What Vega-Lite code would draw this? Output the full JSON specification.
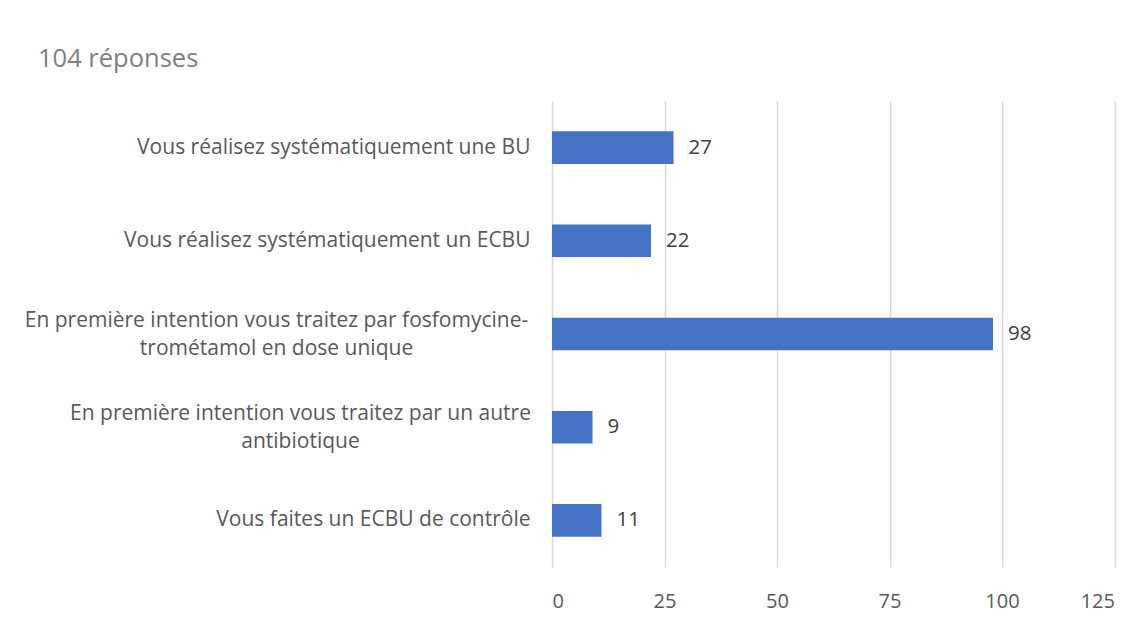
{
  "$schema": "https://vega.github.io/schema/vega-lite/v6.json",
  "width": 562.5,
  "height": 466,
  "autosize": {"type": "none"},
  "padding": {"left": 552, "top": 101, "right": 33.5, "bottom": 55},
  "background": "white",
  "title": {
    "text": "104 réponses",
    "anchor": "start",
    "frame": "group",
    "dx": -514,
    "offset": 9,
    "baseline": "alphabetic",
    "font": "Open Sans",
    "fontSize": 25.5,
    "fontWeight": "normal",
    "color": "#7f7f7f"
  },
  "data": {
    "values": [
      {"reponse": "Vous réalisez systématiquement une BU", "n": 27},
      {"reponse": "Vous réalisez systématiquement un ECBU", "n": 22},
      {"reponse": "En première intention vous traitez par fosfomycine-|trométamol en dose unique", "n": 98},
      {"reponse": "En première intention vous traitez par un autre|antibiotique", "n": 9},
      {"reponse": "Vous faites un ECBU de contrôle", "n": 11}
    ]
  },
  "encoding": {
    "y": {
      "field": "reponse",
      "type": "nominal",
      "sort": null,
      "scale": {"paddingInner": 0.65, "paddingOuter": 0.325},
      "axis": {
        "title": null,
        "domain": false,
        "ticks": false,
        "labelExpr": "split(datum.label, '|')",
        "labelPadding": {"condition": [
          {"test": "indexof(datum.value, 'fosfomycine') >= 0", "value": 276},
          {"test": "indexof(datum.value, 'autre') >= 0", "value": 252}
        ], "value": 22},
        "labelAlign": {"condition": {"test": "indexof(datum.value, '|') >= 0", "value": "center"}, "value": "right"},
        "labelOffset": {"condition": {"test": "indexof(datum.value, '|') >= 0", "value": -13}, "value": 0},
        "labelFont": "Open Sans",
        "labelFontSize": 21,
        "labelColor": "#595959",
        "labelLineHeight": 28,
        "labelLimit": 600
      }
    },
    "x": {
      "field": "n",
      "type": "quantitative",
      "scale": {"domain": [0, 125], "nice": false},
      "axis": {
        "title": null,
        "values": [0, 25, 50, 75, 100, 125],
        "domain": false,
        "ticks": false,
        "grid": true,
        "gridColor": "#d9d9d9",
        "gridWidth": 1.5,
        "labelPadding": 24,
        "labelFont": "Open Sans",
        "labelFontSize": 20,
        "labelColor": "#595959"
      }
    }
  },
  "layer": [
    {"mark": {"type": "bar", "color": "#4472C4"}},
    {
      "mark": {"type": "text", "align": "left", "baseline": "middle", "dx": 15, "font": "Open Sans", "fontSize": 20.5, "color": "#404040"},
      "encoding": {"text": {"field": "n", "type": "quantitative"}}
    }
  ],
  "config": {"view": {"stroke": null}}
}
